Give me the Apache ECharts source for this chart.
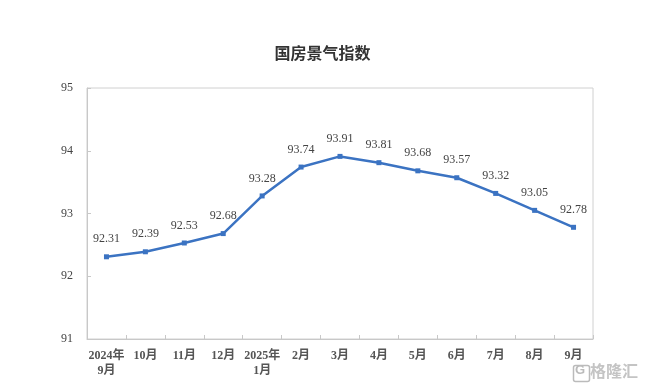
<!DOCTYPE html>
<html><head><meta charset="utf-8">
<script src="https://cdn.jsdelivr.net/npm/echarts@6/dist/echarts.min.js"></script>
<style>html,body{margin:0;padding:0;background:#fff}#c{width:645px;height:389px}</style>
</head><body><div id="c"></div>
<script>
const title = '国房景气指数';
const categories = ['2024年\n9月','10月','11月','12月','2025年\n1月','2月','3月','4月','5月','6月','7月','8月','9月'];
const values = [92.31,92.39,92.53,92.68,93.28,93.74,93.91,93.81,93.68,93.57,93.32,93.05,92.78];
const yTicks = [91,92,93,94,95];

const serif = '"Liberation Serif","Noto Sans CJK SC",serif';
const chart = echarts.init(document.getElementById('c'));
chart.setOption({
  animation:false,
  backgroundColor:'#fff',
  title:{text:title,left:'center',top:40,textStyle:{fontFamily:'"Noto Sans CJK SC",sans-serif',fontSize:16,fontWeight:'bold',color:'#333'}},
  grid:{left:87,right:52,top:88,bottom:50,show:true,borderColor:'#d0d0d0',borderWidth:1},
  xAxis:{type:'category',data:categories,boundaryGap:true,
    axisLine:{lineStyle:{color:'#c8c8c8'}},
    axisTick:{show:true,inside:true,length:4,lineStyle:{color:'#c8c8c8'}},
    axisLabel:{fontFamily:serif,fontSize:12,fontWeight:'bold',color:'#555',margin:9,lineHeight:15,interval:0}},
  yAxis:{type:'value',min:yTicks[0],max:yTicks[yTicks.length-1],interval:1,
    axisLine:{show:true,lineStyle:{color:'#c8c8c8'}},
    axisTick:{show:true,inside:true,length:4,lineStyle:{color:'#c8c8c8'}},
    splitLine:{show:false},
    axisLabel:{fontFamily:serif,fontSize:12,color:'#444',margin:14}},
  series:[{type:'line',data:values,symbol:'rect',symbolSize:5,
    lineStyle:{color:'#3b73c2',width:2.5},itemStyle:{color:'#3b73c2'},
    label:{show:true,position:'top',distance:9,fontFamily:serif,fontSize:12,color:'#444',formatter:p=>p.value.toFixed(2)}}],
  graphic:[
    {type:'rect',left:571,top:363,shape:{width:16,height:16,r:2},style:{fill:'none',stroke:'#bbb',lineWidth:1.5}},
    {type:'text',left:575,top:364,style:{text:'G',font:'bold 13px sans-serif',fill:'#bbb'}},
    {type:'text',left:590,top:363,style:{text:'格隆汇',font:'bold 16px "Noto Sans CJK SC"',fill:'#c4c4c4'}}
  ]
});
</script></body></html>
